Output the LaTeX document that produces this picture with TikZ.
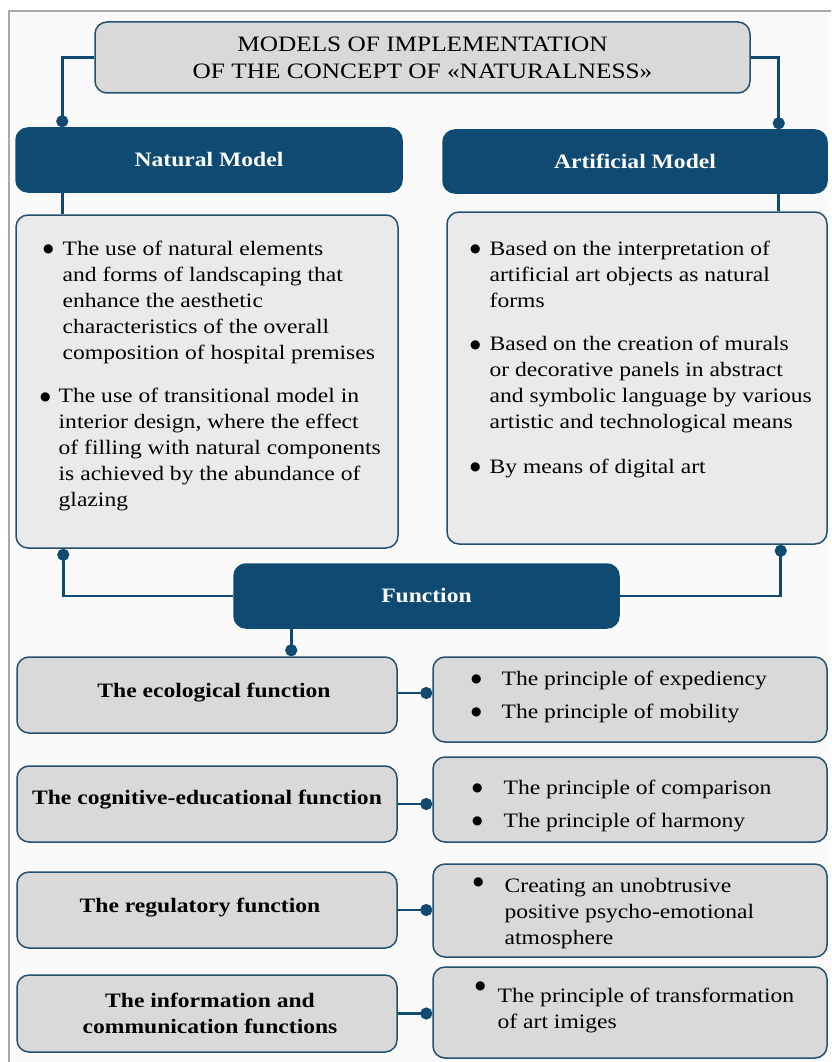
\documentclass[tikz,border=0pt]{standalone}
\usepackage{fontspec}
\setmainfont{Liberation Serif}[FakeStretch=1.15]
\newfontfamily\dejavu{DejaVu Sans}
\usetikzlibrary{arrows.meta}
\definecolor{navy}{HTML}{0E4A72}
\definecolor{edgeblue}{HTML}{24506F}
\definecolor{boxgray}{HTML}{D9D9D9}
\definecolor{palegray}{HTML}{EAEAEA}
\definecolor{framegray}{HTML}{A8A8A8}
\newcommand{\bigdot}[1][2.5pt]{\raisebox{#1}{\dejavu\fontsize{12}{12}\selectfont ●}}
\begin{document}
\begin{tikzpicture}[x=1pt,y=-1pt,
  font=\fontsize{20.5}{26}\selectfont,
  box/.style={rectangle, rounded corners=12pt, draw=edgeblue, line width=1.5pt, inner sep=0pt, align=center},
  head/.style={box, fill=navy, draw=navy, text=white, font=\bfseries\fontsize{20.5}{26}\selectfont},
  light/.style={box, fill=boxgray},
  pale/.style={box, fill=palegray},
  fn/.style={font=\bfseries\fontsize{20.5}{26}\selectfont, align=center, inner sep=0pt},
  txt/.style={anchor=west, inner sep=0pt},
  conn/.style={draw=navy, line width=2.8pt},
  dotend/.style={-{Circle[length=12pt,width=12pt]}},
  dotstart/.style={{Circle[length=12pt,width=12pt]}-}
]
\useasboundingbox (0,0) rectangle (831,1062);
\fill[white] (0,0) rectangle (831,1062);
\fill[black!2] (9,11) rectangle (831,1062);
\draw[framegray, line width=2pt] (9,1062) -- (9,11) -- (831,11);

% boxes
\node[light, minimum width=655pt, minimum height=71pt, font=\fontsize{22}{27}\selectfont] (title) at (422.5,57.5)
  {MODELS OF IMPLEMENTATION\\OF THE CONCEPT OF «NATURALNESS»};
\node[head, minimum width=386pt, minimum height=64pt] (natural) at (209,160) {Natural Model};
\node[head, minimum width=384pt, minimum height=63pt] (artificial) at (635,161.5) {Artificial Model};
\node[pale, minimum width=382pt, minimum height=333pt] (leftcontent) at (207,381.5) {};
\node[pale, minimum width=380pt, minimum height=332pt] (rightcontent) at (637,378) {};
\node[head, minimum width=385pt, minimum height=64pt] (function) at (426.5,596) {Function};

\node[light, minimum width=380pt, minimum height=76pt] (ecoL) at (207,695) {};
\node[light, minimum width=394pt, minimum height=85pt] (ecoR) at (630,699.5) {};
\node[light, minimum width=380pt, minimum height=76pt] (cogL) at (207,804) {};
\node[light, minimum width=394pt, minimum height=85pt] (cogR) at (630,799.5) {};
\node[light, minimum width=380pt, minimum height=76pt] (regL) at (207,910) {};
\node[light, minimum width=394pt, minimum height=93pt] (regR) at (630,910.5) {};
\node[light, minimum width=380pt, minimum height=77pt] (infoL) at (207,1013.5) {};
\node[light, minimum width=394pt, minimum height=91pt] (infoR) at (630,1012.5) {};

% function labels
\node[fn] (ecoT) at (214,693) {The ecological function};
\node[fn] (cogT) at (207,800) {The cognitive-educational function};
\node[fn] (regT) at (200,908) {The regulatory function};
\node[fn] (infoT) at (210,1013.5) {The information and\\communication functions};

% content texts
\node[txt] (l1) at (43,302) {\begin{tabular}{@{}l@{\hspace{9pt}}l@{}}\bigdot & The use of natural elements\\
 & and forms of landscaping that\\ & enhance the aesthetic\\ & characteristics of the overall\\ & composition of hospital premises\end{tabular}};
\node[txt] (l2) at (40,449.5) {\begin{tabular}{@{}l@{\hspace{8pt}}l@{}}\bigdot & The use of transitional model in\\
 & interior design, where the effect\\ & of filling with natural components\\ & is achieved by the abundance of\\ & glazing\end{tabular}};
\node[txt] (r1) at (470,276) {\begin{tabular}{@{}l@{\hspace{9pt}}l@{}}\bigdot & Based on the interpretation of\\
 & artificial art objects as natural\\ & forms\end{tabular}};
\node[txt] (r2) at (470,384.5) {\begin{tabular}{@{}l@{\hspace{9pt}}l@{}}\bigdot & Based on the creation of murals\\
 & or decorative panels in abstract\\ & and symbolic language by various\\ & artistic and technological means\end{tabular}};
\node[txt] (r3) at (470,468) {\begin{tabular}{@{}l@{\hspace{9pt}}l@{}}\bigdot & By means of digital art\end{tabular}};

\node[txt] (ecoX) at (471,696.5) {\begin{tabular}{@{}l@{\hspace{20pt}}l@{}}\bigdot & The principle of expediency\\[7pt]
 \bigdot & The principle of mobility\end{tabular}};
\node[txt] (cogX) at (472,805.5) {\begin{tabular}{@{}l@{\hspace{21pt}}l@{}}\bigdot & The principle of comparison\\[7pt]
 \bigdot & The principle of harmony\end{tabular}};
\node[txt] (regX) at (473,913.5) {\begin{tabular}{@{}l@{\hspace{21pt}}l@{}}\bigdot[7pt] & Creating an unobtrusive\\
 & positive psycho-emotional\\ & atmosphere\end{tabular}};
\node[txt] (infoX) at (475,1009.5) {\begin{tabular}{@{}l@{\hspace{12pt}}l@{}}\bigdot[13pt] & The principle of transformation\\
 & of art imiges\end{tabular}};

% connectors
\draw[conn, dotend] (title.west) -| ([xshift=47pt]natural.north west);
\draw[conn, dotend] (title.east) -| ([xshift=-49pt]artificial.north east);
\draw[conn] ([xshift=47pt]natural.south west) -- ([xshift=47pt]natural.south west |- leftcontent.north);
\draw[conn] ([xshift=-49pt]artificial.south east) -- ([xshift=-49pt]artificial.south east |- rightcontent.north);
\draw[conn, dotstart] ([xshift=48pt]leftcontent.south west) |- (function.west);
\draw[conn, dotstart] ([xshift=-47pt]rightcontent.south east) |- (function.east);
\draw[conn, dotend] ([xshift=58pt]function.south west) -- ([xshift=58pt]function.south west |- ecoL.north);
\draw[conn, dotend] ([yshift=2pt]ecoL.east) -- ([yshift=2pt]ecoL.east -| ecoR.west);
\draw[conn, dotend] (cogL.east) -- (cogL.east -| cogR.west);
\draw[conn, dotend] (regL.east) -- (regL.east -| regR.west);
\draw[conn, dotend] (infoL.east) -- (infoL.east -| infoR.west);
\end{tikzpicture}
\end{document}
